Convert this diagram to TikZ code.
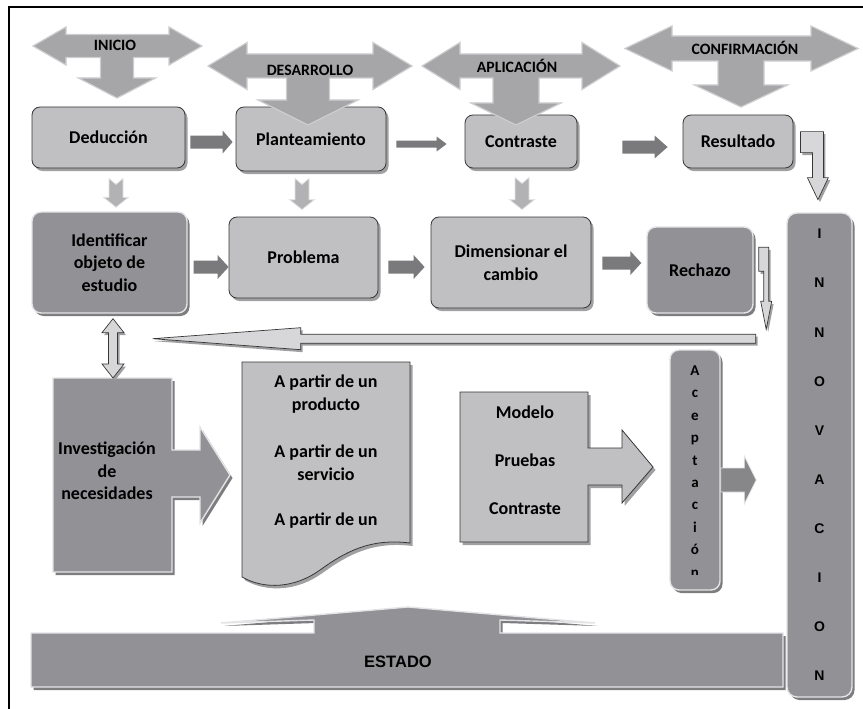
\documentclass[tikz,border=0pt]{standalone}
\usepackage{fontspec}
\setmainfont{Carlito}
\newfontfamily\arialfam{Liberation Sans}
\usetikzlibrary{shadows,calc}

\definecolor{lightfill}{RGB}{192,192,194}
\definecolor{darkfill}{RGB}{146,146,150}
\definecolor{tfill}{RGB}{166,166,168}
\definecolor{tedge}{RGB}{205,205,207}
\definecolor{blockfill}{RGB}{122,122,124}
\definecolor{outl}{RGB}{55,55,55}
\definecolor{hilite}{RGB}{228,228,230}
\definecolor{shadl}{RGB}{160,160,162}
\definecolor{shadd}{RGB}{125,125,128}
\definecolor{palefill}{RGB}{215,215,217}
\definecolor{notchfill}{RGB}{178,178,180}
\definecolor{smallfill}{RGB}{135,135,138}

\newcommand\bxfont{\fontsize{18}{22.5}\selectfont\bfseries}
\newcommand\tpfont{\fontsize{15.8}{18}\selectfont\bfseries}

% right-pointing block arrow: style, tail, tip, shaft half, head half, head length
\newcommand\arrR[6]{\path[#1] let \p1=#2, \p2=#3 in (\x1,\y1+#4) -- (\x2-#6,\y1+#4) -- (\x2-#6,\y1+#5) -- (\x2,\y1) -- (\x2-#6,\y1-#5) -- (\x2-#6,\y1-#4) -- (\x1,\y1-#4) -- cycle;}
% left-pointing block arrow: style, tail (right), tip (left), shaft half, head half, head length
\newcommand\arrL[6]{\path[#1] let \p1=#2, \p2=#3 in (\x1,\y1+#4) -- (\x2+#6,\y1+#4) -- (\x2+#6,\y1+#5) -- (\x2,\y1) -- (\x2+#6,\y1-#5) -- (\x2+#6,\y1-#4) -- (\x1,\y1-#4) -- cycle;}
% notched down arrow: style, top, tip, shaft half, head half, head length, notch
\newcommand\arrD[7]{\path[#1] let \p1=#2, \p2=#3 in (\x1-#4,\y1) -- (\x1,\y1-#7) -- (\x1+#4,\y1) -- (\x1+#4,\y2+#6) -- (\x1+#5,\y2+#6) -- (\x1,\y2) -- (\x1-#5,\y2+#6) -- (\x1-#4,\y2+#6) -- cycle;}
% up-down arrow: style, top tip, bottom tip, shaft half, head half, head length
\newcommand\arrUD[6]{\path[#1] let \p1=#2, \p2=#3 in (\x1,\y1) -- (\x1+#5,\y1-#6) -- (\x1+#4,\y1-#6) -- (\x1+#4,\y2+#6) -- (\x1+#5,\y2+#6) -- (\x1,\y2) -- (\x1-#5,\y2+#6) -- (\x1-#4,\y2+#6) -- (\x1-#4,\y1-#6) -- (\x1-#5,\y1-#6) -- cycle;}

\begin{document}
\begin{tikzpicture}[x=1pt,y=-1pt,
 lightbox/.style={rounded corners=8pt, fill=lightfill, draw=outl, line width=0.8pt,
   drop shadow={shadow xshift=2.5pt, shadow yshift=-3pt, fill=shadl, opacity=1},
   font=\bxfont, align=center, inner sep=2pt},
 darkbox/.style={rounded corners=9pt, fill=darkfill, draw=hilite, line width=1.4pt,
   drop shadow={shadow xshift=2.5pt, shadow yshift=-3pt, fill=shadd, opacity=1},
   font=\bxfont, align=center, inner sep=2pt},
 tarrow/.style={fill=tfill, draw=tedge, line width=1.2pt},
 tlabel/.style={font=\tpfont, inner sep=0pt},
 blockarrow/.style={fill=blockfill},
 smallarrow/.style={fill=smallfill, draw=hilite, line width=0.8pt},
 notcharrow/.style={fill=notchfill, draw=hilite, line width=0.8pt},
 palearrow/.style={fill=palefill, draw=outl, line width=0.7pt,
   drop shadow={shadow xshift=2pt, shadow yshift=-2.5pt, fill=shadl, opacity=1}},
 darkshape/.style={fill=darkfill, draw=hilite, line width=1.4pt,
   drop shadow={shadow xshift=2.5pt, shadow yshift=-3pt, fill=shadd, opacity=1}},
 lightshape/.style={fill=lightfill, draw=outl, line width=0.8pt,
   drop shadow={shadow xshift=2.5pt, shadow yshift=-3pt, fill=shadl, opacity=1}},
 txt/.style={font=\bxfont, align=center, inner sep=0pt},
]
\useasboundingbox (0,0) rectangle (863,709);

% ---------- row 1 boxes ----------
\node[lightbox, minimum width=153pt, minimum height=61pt] (ded) at (108.5,137.5) {Deducción};
\node[lightbox, minimum width=150pt, minimum height=64pt] (pla) at (311,139) {Planteamiento};
\node[lightbox, minimum width=112pt, minimum height=53pt] (con) at (521,141.5) {Contraste};
\node[lightbox, minimum width=110pt, minimum height=53pt] (res) at (738,141.5) {Resultado};

% ---------- row 2 boxes ----------
\node[darkbox, minimum width=155pt, minimum height=101pt] (ide) at (109.5,262.5) {Identificar\\objeto de\\estudio};
\node[lightbox, minimum width=149pt, minimum height=81pt] (pro) at (303.5,257.5) {Problema};
\node[lightbox, minimum width=160pt, minimum height=91pt] (dim) at (511,262.5) {Dimensionar el\\cambio};
\node[darkbox, minimum width=106pt, minimum height=86pt] (rec) at (700,270) {Rechazo};

% ---------- tall boxes ----------
\node[darkbox, rounded corners=10pt, minimum width=65pt, minimum height=484pt,
  font={\arialfam\bfseries\fontsize{14}{49.1}\selectfont}] (inn) at (819.5,455)
  {I\\N\\N\\O\\V\\A\\C\\I\\O\\N};
\node[darkbox, minimum width=50pt, minimum height=240pt] (ace) at (695,470) {};
\begin{scope}
\clip (670,352) rectangle (720,574);
\node[inner sep=0pt, align=center, font={\fontsize{15}{22.4}\selectfont\bfseries}] (acet) at (695,471.5)
  {A\\c\\e\\p\\t\\a\\c\\i\\ó\\n};
\end{scope}

% ---------- top T arrows ----------
\path[tarrow] (33,46) -- (66,27) -- (66,34.5) -- (169,34.5) -- (169,27) -- (202,46) -- (169,65) -- (169,57.5)
  -- (133.5,57.5) -- (133.5,78) -- (155.5,78) -- (117,98) -- (78.5,78) -- (100.5,78) -- (100.5,57.5)
  -- (66,57.5) -- (66,65) -- cycle;
\node[tlabel] (ini) at (115,45) {INICIO};

\path[tarrow] (208,66) -- (247,42.5) -- (247,54) -- (373,54) -- (373,42.5) -- (412,66) -- (373,89.5) -- (373,78)
  -- (329.5,78) -- (329.5,100) -- (358,100) -- (308,125) -- (258,100) -- (286.5,100) -- (286.5,78)
  -- (247,78) -- (247,89.5) -- cycle;
\node[tlabel] (des) at (310,70) {DESARROLLO};

\path[tarrow] (422,66) -- (460,42.5) -- (460,54) -- (582,54) -- (582,42.5) -- (620,66) -- (582,89.5) -- (582,78)
  -- (539,78) -- (539,103) -- (561,103) -- (516,125) -- (471,103) -- (493,103) -- (493,78)
  -- (460,78) -- (460,89.5) -- cycle;
\node[tlabel] (apl) at (517,66) {APLICACIÓN};

\path[tarrow] (625,48.5) -- (672,26) -- (672,36) -- (811,36) -- (811,26) -- (858,48.5) -- (811,71) -- (811,61)
  -- (764,61) -- (764,85) -- (787.5,85) -- (741,107) -- (694.5,85) -- (718,85) -- (718,61)
  -- (672,61) -- (672,71) -- cycle;
\node[tlabel] (cnf) at (745,48) {CONFIRMACIÓN};

% ---------- horizontal block arrows ----------
\arrR{blockarrow}{($(ded.east)+(5,4.5)$)}{($(pla.west)+(-3,0)$)}{6.5pt}{11.5pt}{10pt}
\arrR{blockarrow}{($(pla.east)+(10,5)$)}{($(con.west)+(-18,0)$)}{3.5pt}{7.5pt}{10pt}
\arrR{blockarrow}{($(con.east)+(45,5.5)$)}{($(res.west)+(-15,0)$)}{6.5pt}{11.5pt}{13pt}
\arrR{blockarrow}{($(ide.east)+(6,4.5)$)}{(pro.west)}{6.5pt}{12pt}{11pt}
\arrR{blockarrow}{($(pro.east)+(10,9.5)$)}{($(dim.west)+(-6,0)$)}{6.5pt}{12pt}{11pt}
\arrR{blockarrow}{($(dim.east)+(11,0.5)$)}{($(rec.west)+(-5,0)$)}{6.5pt}{12pt}{11pt}

% ---------- notched down arrows ----------
\arrD{notcharrow}{($(ded.south)+(7.5,10)$)}{($(ide.north)+(6.5,-4)$)}{7pt}{12.5pt}{10pt}{6pt}
\arrD{notcharrow}{($(pla.south)+(-9,7)$)}{($(pro.north)+(-1.5,-7)$)}{7pt}{12.5pt}{10pt}{6pt}
\arrD{notcharrow}{($(con.south)+(1,9)$)}{($(dim.north)+(11,-7)$)}{7pt}{12.5pt}{10pt}{6pt}

% ---------- bent arrows ----------
\begin{scope}[shift={(res.north east)}]
\path[palearrow] (7,17) -- (30,17) -- (30,63) -- (35,63) -- (24.5,85) -- (14,63) -- (19,63) -- (19,38) -- (7,38) -- cycle;
\end{scope}
\begin{scope}[shift={(rec.north east)}]
\path[palearrow] (5,21) -- (15,21) -- (15,75) -- (18,75) -- (12.5,103) -- (7,75) -- (10,75) -- (10,45) -- (5,45) -- cycle;
\end{scope}

% ---------- long return arrow ----------
\arrL{palearrow}{($(rec.south east)+(2,25)$)}{($(ide.south east)+(-35,25)$)}{4.5pt}{11pt}{148pt}

% ---------- Investigacion callout ----------
\path[darkshape] (53,378) -- (172,378) -- (172,450) -- (200,450) -- (200,427) -- (230,475) -- (200,523)
  -- (200,497) -- (172,497) -- (172,572) -- (53,572) -- cycle;
\node[txt] (inv) at (107,471) {Investigación\\de\\necesidades};
\coordinate (invtop) at (113,378);
\arrUD{palearrow}{($(ide.south)+(3.5,5)$)}{(invtop)}{4.5pt}{11pt}{14pt}

% ---------- document ----------
\path[lightshape] (242,362) -- (410,362) -- (410,543) .. controls (370,538) and (345,552) .. (320,570)
  .. controls (295,588) and (265,590) .. (242,577) -- cycle;
\node[txt, anchor=north] (doc) at (326,375) {A partir de un\\producto\\[25pt]A partir de un\\servicio\\[23pt]A partir de un};

% ---------- Modelo callout ----------
\path[lightshape] (460,392) -- (588,392) -- (588,448) -- (622,448) -- (622,430) -- (653,467) -- (622,503)
  -- (622,485) -- (588,485) -- (588,542) -- (460,542) -- cycle;
\node[txt, font={\fontsize{18}{48}\selectfont\bfseries}] (mod) at (525,460) {Modelo\\Pruebas\\Contraste};

% ---------- Aceptacion -> INNOVACION ----------
\arrR{smallarrow}{($(ace.east)+(0,10)$)}{($(inn.west)+(-30,0)$)}{12pt}{24pt}{12pt}

% ---------- ESTADO ----------
\path[darkshape] (31,633) -- (314,633) -- (314,620) -- (221,623) -- (408,607) -- (595,623) -- (500,620)
  -- (500,633) -- (783,633) -- (783,687) -- (31,687) -- cycle;
\node[font={\arialfam\bfseries\fontsize{16.5}{18}\selectfont}] (est) at (398,662) {ESTADO};

% ---------- frame ----------
\draw[line width=2.2pt] (9,709) -- (9,7) -- (863,7);
\end{tikzpicture}
\end{document}
